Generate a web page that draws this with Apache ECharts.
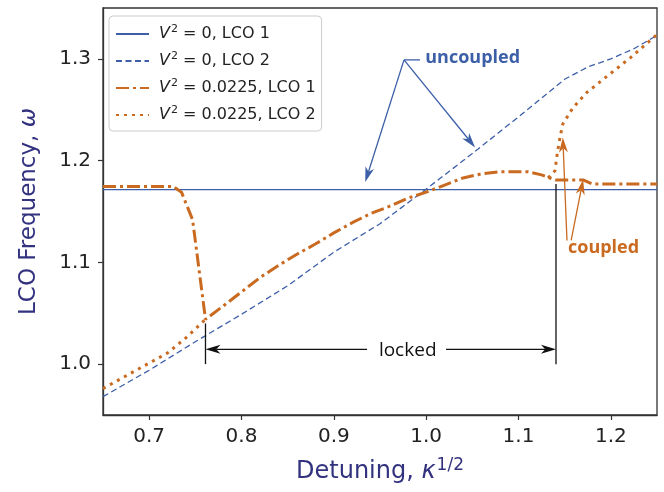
<!DOCTYPE html>
<html>
<head>
<meta charset="utf-8">
<script src="https://cdn.jsdelivr.net/npm/echarts@6/dist/echarts.min.js"></script>
<style>
  html, body { margin: 0; padding: 0; background: #fff; }
  #chart { width: 664px; height: 492px; }
</style>
</head>
<body>
<div id="chart"></div>
<script>
// axis ticks
const xTicks = [0.7, 0.8, 0.9, 1.0, 1.1, 1.2]
const yTicks = [1.0, 1.1, 1.2, 1.3]

// V^2 = 0 (uncoupled)
const unc1X = [0.65, 1.25]
const unc1Y = [1.1715, 1.1715]
const unc2X = [0.65, 0.70, 0.75, 0.80, 0.85, 0.90, 0.95, 1.00, 1.05, 1.10, 1.15, 1.175, 1.20, 1.225, 1.25]
const unc2Y = [0.968, 0.994, 1.022, 1.049, 1.077, 1.110, 1.138, 1.172, 1.207, 1.243, 1.280, 1.292, 1.300, 1.310, 1.323]

// V^2 = 0.0225 (coupled)
const cpl1X = [0.65, 0.70, 0.726, 0.735, 0.747, 0.761, 0.78, 0.80, 0.82, 0.84, 0.86, 0.88, 0.90, 0.92, 0.94, 0.96, 0.98, 1.00, 1.02, 1.04, 1.06, 1.08, 1.11, 1.125, 1.14, 1.16, 1.17, 1.18, 1.20, 1.25]
const cpl1Y = [1.1745, 1.1745, 1.1745, 1.169, 1.142, 1.044, 1.057, 1.071, 1.085, 1.097, 1.108, 1.118, 1.129, 1.139, 1.148, 1.155, 1.163, 1.169, 1.176, 1.183, 1.187, 1.189, 1.189, 1.186, 1.181, 1.181, 1.181, 1.177, 1.177, 1.177]
// LCO 2 only exists outside the locked band ('-' breaks the line)
const cpl2X = [0.65, 0.68, 0.70, 0.72, 0.74, 0.761, 0.95, 1.132, 1.1395, 1.142, 1.145, 1.148, 1.159, 1.174, 1.196, 1.221, 1.25]
const cpl2Y = [0.976, 0.991, 1.001, 1.011, 1.026, 1.044, '-', 1.183, 1.190, 1.207, 1.223, 1.236, 1.252, 1.267, 1.283, 1.301, 1.324]

// annotations (data coordinates)
const arrowFrom = [[0.976, 1.299], [0.976, 1.299], [0.976, 1.299], [1.1525, 1.1215], [1.157, 1.1215], [0.936, 1.0145], [1.0215, 1.0145], [0.761, 1.040], [1.1406, 1.177]]
const arrowTo = [[0.9933, 1.299], [0.934, 1.179], [1.053, 1.213], [1.148, 1.2227], [1.170, 1.1814], [0.761, 1.0145], [1.1406, 1.0145], [0.761, 1.0], [1.1406, 1.0]]
const arrowHead = [false, true, true, true, true, true, true, false, false]
const noteText = ['uncoupled', 'coupled', 'locked']
const notePos = [[0.999, 1.301], [1.1536, 1.1146], [0.980, 1.0136]]

const BLUE = '#3c5fa8'
const ORANGE = '#c96a20'
const TITLE = '#32327f'
const arrowColor = [BLUE, BLUE, BLUE, ORANGE, ORANGE, '#111', '#111', '#111', '#111']
const noteStyle = [
  { fill: BLUE, font: 'bold 18px "Open Sans"', align: 'left' },
  { fill: ORANGE, font: 'bold 18px "Open Sans"', align: 'left' },
  { fill: '#111', font: '19px "Open Sans"', align: 'center' }
]

const names = ['V2 = 0, LCO 1', 'V2 = 0, LCO 2', 'V2 = 0.0225, LCO 1', 'V2 = 0.0225, LCO 2']
const legendLabels = {
  'V2 = 0, LCO 1': '{i|V}{s|2}{t| = 0, LCO 1}',
  'V2 = 0, LCO 2': '{i|V}{s|2}{t| = 0, LCO 2}',
  'V2 = 0.0225, LCO 1': '{i|V}{s|2}{t| = 0.0225, LCO 1}',
  'V2 = 0.0225, LCO 2': '{i|V}{s|2}{t| = 0.0225, LCO 2}'
}

function pairs(xs, ys) {
  return xs.map((x, i) => (ys[i] === '-' ? '-' : [x, ys[i]]))
}

function renderArrow(params, api) {
  const i = params.dataIndex
  const p0 = api.coord([api.value(0), api.value(1)])
  const p1 = api.coord([api.value(2), api.value(3)])
  const color = arrowColor[i]
  const children = []
  let end = p1
  if (arrowHead[i]) {
    const dx = p1[0] - p0[0]
    const dy = p1[1] - p0[1]
    const len = Math.sqrt(dx * dx + dy * dy)
    const ux = dx / len
    const uy = dy / len
    const L = 15
    const W = 4.5
    const bx = p1[0] - ux * L
    const by = p1[1] - uy * L
    const nx = p1[0] - ux * L * 0.72
    const ny = p1[1] - uy * L * 0.72
    end = [nx, ny]
    children.push({
      type: 'polygon',
      shape: { points: [p1, [bx - uy * W, by + ux * W], [nx, ny], [bx + uy * W, by - ux * W]] },
      style: { fill: color }
    })
  }
  children.unshift({
    type: 'line',
    shape: { x1: p0[0], y1: p0[1], x2: end[0], y2: end[1] },
    style: { stroke: color, lineWidth: 1.3 }
  })
  return { type: 'group', children }
}

function renderNote(params, api) {
  const i = params.dataIndex
  const p = api.coord([api.value(0), api.value(1)])
  return {
    type: 'text',
    x: p[0],
    y: p[1],
    style: Object.assign({ text: noteText[i], verticalAlign: 'middle' }, noteStyle[i])
  }
}

const chart = echarts.init(document.getElementById('chart'))

const option = {
  animation: false,
  grid: {
    left: 103, right: 7, top: 8, bottom: 77,
    show: true, borderColor: '#333', borderWidth: 1.3
  },
  legend: {
    data: names,
    orient: 'vertical',
    left: 109,
    top: 16,
    padding: [8, 6, 8, 6],
    itemWidth: 33,
    itemHeight: 14,
    itemGap: 9,
    backgroundColor: '#fff',
    borderColor: '#ccc',
    borderWidth: 1,
    borderRadius: 4,
    itemStyle: { opacity: 0 },
    formatter: name => legendLabels[name],
    textStyle: {
      fontFamily: 'DejaVu Sans',
      fontSize: 16,
      color: '#222',
      rich: {
        i: { fontFamily: 'DejaVu Sans', fontSize: 16, fontStyle: 'italic', color: '#222', padding: [0, 0, 0, 5] },
        s: { fontFamily: 'DejaVu Sans', fontSize: 11, color: '#222', padding: [0, 0, 9, 1] },
        t: { fontFamily: 'DejaVu Sans', fontSize: 16, color: '#222' }
      }
    }
  },
  xAxis: {
    type: 'value',
    min: 0.65,
    max: 1.25,
    name: '{a|Detuning, }{b|κ}{c|1/2}',
    nameLocation: 'middle',
    nameGap: 42,
    nameTextStyle: {
      rich: {
        a: { fontFamily: 'DejaVu Sans', fontSize: 24, color: TITLE },
        b: { fontFamily: 'DejaVu Sans', fontSize: 24, fontStyle: 'italic', color: TITLE },
        c: { fontFamily: 'DejaVu Sans', fontSize: 17, color: TITLE, padding: [0, 0, 12, 1] }
      }
    },
    axisLine: { lineStyle: { color: '#333', width: 1.3 } },
    axisTick: { customValues: xTicks, length: 5, lineStyle: { color: '#333', width: 1.2 } },
    axisLabel: {
      customValues: xTicks,
      formatter: v => v.toFixed(1),
      fontFamily: 'DejaVu Sans',
      fontSize: 20,
      color: '#222',
      margin: 12
    },
    splitLine: { show: false }
  },
  yAxis: {
    type: 'value',
    min: 0.95,
    max: 1.35,
    name: '{a|LCO Frequency, }{b|ω}',
    nameLocation: 'middle',
    nameRotate: 90,
    nameGap: 62,
    nameTextStyle: {
      rich: {
        a: { fontFamily: 'DejaVu Sans', fontSize: 23, color: TITLE },
        b: { fontFamily: 'DejaVu Sans', fontSize: 23, fontStyle: 'italic', color: TITLE }
      }
    },
    axisLine: { lineStyle: { color: '#333', width: 1.3 } },
    axisTick: { customValues: yTicks, length: 5, lineStyle: { color: '#333', width: 1.2 } },
    axisLabel: {
      customValues: yTicks,
      formatter: v => v.toFixed(1),
      fontFamily: 'DejaVu Sans',
      fontSize: 20,
      color: '#222',
      margin: 12
    },
    splitLine: { show: false }
  },
  series: [
    {
      name: names[0],
      type: 'line',
      data: pairs(unc1X, unc1Y),
      symbol: 'none',
      color: BLUE,
      lineStyle: { color: BLUE, width: 1.3 }
    },
    {
      name: names[1],
      type: 'line',
      data: pairs(unc2X, unc2Y),
      symbol: 'none',
      color: BLUE,
      lineStyle: { color: BLUE, width: 1.3, type: [6, 3.5] }
    },
    {
      name: names[2],
      type: 'line',
      data: pairs(cpl1X, cpl1Y),
      symbol: 'none',
      color: ORANGE,
      lineStyle: { color: ORANGE, width: 3, type: [13, 4, 3, 4] }
    },
    {
      name: names[3],
      type: 'line',
      data: pairs(cpl2X, cpl2Y),
      symbol: 'none',
      connectNulls: false,
      color: ORANGE,
      lineStyle: { color: ORANGE, width: 3, type: [3, 5] }
    },
    {
      type: 'custom',
      renderItem: renderArrow,
      data: arrowFrom.map((p, i) => [p[0], p[1], arrowTo[i][0], arrowTo[i][1]]),
      z: 10,
      silent: true
    },
    {
      type: 'custom',
      renderItem: renderNote,
      data: notePos,
      z: 11,
      silent: true
    }
  ]
}

chart.setOption(option)
</script>
</body>
</html>
